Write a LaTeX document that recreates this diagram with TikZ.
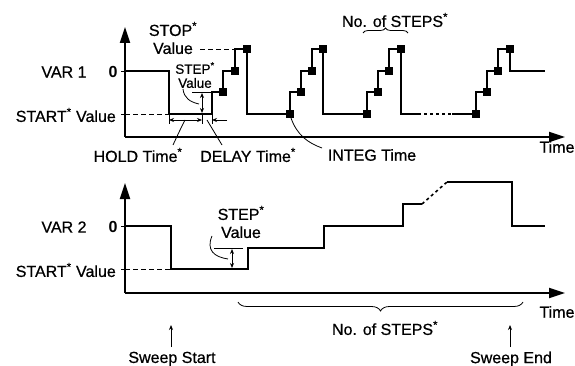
\documentclass[tikz,border=0pt]{standalone}
\usepackage{fontspec}
\setmainfont{Liberation Sans}
\newfontfamily\labelfont{Liberation Sans}[FakeBold=0.6]
\usepackage{tikz}
\usetikzlibrary{arrows.meta, decorations.pathreplacing, positioning}

\begin{document}
\begin{tikzpicture}[x=1pt, y=-1pt,
    axis/.style={line width=1.9pt, -{Triangle[length=16pt,width=10pt]}},
    wave/.style={line width=1.6pt},
    thinline/.style={line width=0.8pt},
    dashline/.style={line width=0.8pt, dash pattern=on 5pt off 3pt},
    dim/.style={line width=0.8pt, {Stealth[length=5pt,width=4pt]}-{Stealth[length=5pt,width=4pt]}},
    onearrow/.style={line width=0.8pt, -{Stealth[length=5pt,width=4pt]}},
    integ/.style={fill, inner sep=0pt, minimum size=8pt},
    lbl/.style={font=\fontsize{16}{18}\selectfont\labelfont, inner sep=0pt, align=center},
    smalllbl/.style={font=\fontsize{13.5}{14}\selectfont\labelfont, inner sep=0pt, align=center}]
\useasboundingbox (0,0) rectangle (575,366);

% ---- VAR 1 ----
\draw[axis] (125,137) -- (125,27);
\draw[axis] (125,137) -- (565,137);
\draw[thinline] (121,71) -- (125,71) (121,114) -- (125,114);
\node[lbl] (var1) at (64,72) {VAR 1};
\node[lbl, font=\fontsize{16}{18}\selectfont\bfseries] (zero1) at (113,72) {0};
\node[lbl, anchor=east] (start1) at (116,115) {START\textsuperscript{*} Value};
\node[lbl] (stop1) at (173,38) {STOP\textsuperscript{*}\\Value};
\node[smalllbl] (step1) at (195,75) {STEP\textsuperscript{*}\\Value};
\node[lbl] (nsteps1) at (395,20) {No. of STEPS\textsuperscript{*}};
\node[lbl] (hold) at (138,155) {HOLD Time\textsuperscript{*}};
\node[lbl] (delay) at (248,155) {DELAY Time\textsuperscript{*}};
\node[lbl] (integ) at (372,155) {INTEG Time};
\node[lbl] (time1) at (557,147) {Time};

\draw[wave] (125,71) -- (169,71) -- (169,114) -- (212,114) -- (212,92) -- (223,92)
  -- (223,71) -- (235,71) -- (235,49) -- (247,49) -- (247,114) -- (290,114)
  -- (290,92) -- (301,92) -- (301,71) -- (312,71) -- (312,49) -- (323,49)
  -- (323,114) -- (367,114) -- (367,92) -- (378,92) -- (378,71) -- (389,71)
  -- (389,49) -- (401,49) -- (401,114) -- (418,114);
\draw[wave, dashed] (418,114) -- (452,114);
\draw[wave] (452,114) -- (476,114) -- (476,92) -- (487,92) -- (487,71) -- (498,71)
  -- (498,49) -- (510,49) -- (510,71) -- (545,71);
\foreach \x/\y in {223/92, 235/71, 247/49, 290/114, 301/92, 312/71, 323/49,
    367/114, 378/92, 389/71, 401/49, 476/114, 487/92, 498/71, 510/49}
  \node[integ] at (\x,\y) {};

\draw[dashline] (125,114) -- (169,114);
\draw[dashline] (200,49) -- (235,49);
\draw[thinline] (192,92) -- (212,92);
\draw[dim] (202,93) -- (202,113);
\draw[thinline] (202,113) -- (202,124) (169,114) -- (169,124) (212,114) -- (212,124);
\draw[dim] (169,120) -- (202,120);
\draw[onearrow] (227,120) -- (212,120);
\draw[thinline] (183,89) .. controls (184,98) and (190,102) .. (199,104);
\draw[thinline] (185,120) .. controls (180,130) .. (173,145);
\draw[thinline] (207,120) .. controls (213,130) .. (222,145);
\draw[thinline] (291,118) .. controls (297,135) and (308,143) .. (322,148);
\draw[thinline, decorate, decoration={brace, amplitude=5pt}] (363,33) -- (408,33);

% ---- VAR 2 ----
\draw[axis] (125,293) -- (125,183);
\draw[axis] (125,293) -- (565,293);
\draw[thinline] (121,226) -- (125,226) (121,269) -- (125,269);
\node[lbl] (var2) at (64,227) {VAR 2};
\node[lbl, font=\fontsize{16}{18}\selectfont\bfseries] (zero2) at (113,227) {0};
\node[lbl, anchor=east] (start2) at (116,270) {START\textsuperscript{*} Value};
\node[lbl] (step2) at (241,222) {STEP\textsuperscript{*}\\Value};
\node[lbl] (time2) at (557,312) {Time};
\node[lbl] (nsteps2) at (385,328) {No. of STEPS\textsuperscript{*}};
\node[lbl] (sstart) at (172,359) {Sweep Start};
\node[lbl] (send) at (511,359) {Sweep End};

\draw[wave] (125,226) -- (171,226) -- (171,269) -- (248,269) -- (248,248) -- (324,248)
  -- (324,226) -- (403,226) -- (403,204) -- (422,204);
\draw[wave, dashed] (422,204) -- (447,182);
\draw[wave] (447,182) -- (512,182) -- (512,226) -- (545,226);
\draw[dashline] (125,269) -- (171,269);
\draw[thinline] (214,248) -- (243,248);
\draw[dim] (232,249) -- (232,268);
\draw[thinline] (212,236) .. controls (206,250) and (214,257) .. (228,259);
\draw[thinline, decorate, decoration={brace, mirror, amplitude=9pt}] (238,302) -- (523,302);
\draw[onearrow] (171,347) -- (171,325);
\draw[onearrow] (510,347) -- (510,325);
\end{tikzpicture}
\end{document}
